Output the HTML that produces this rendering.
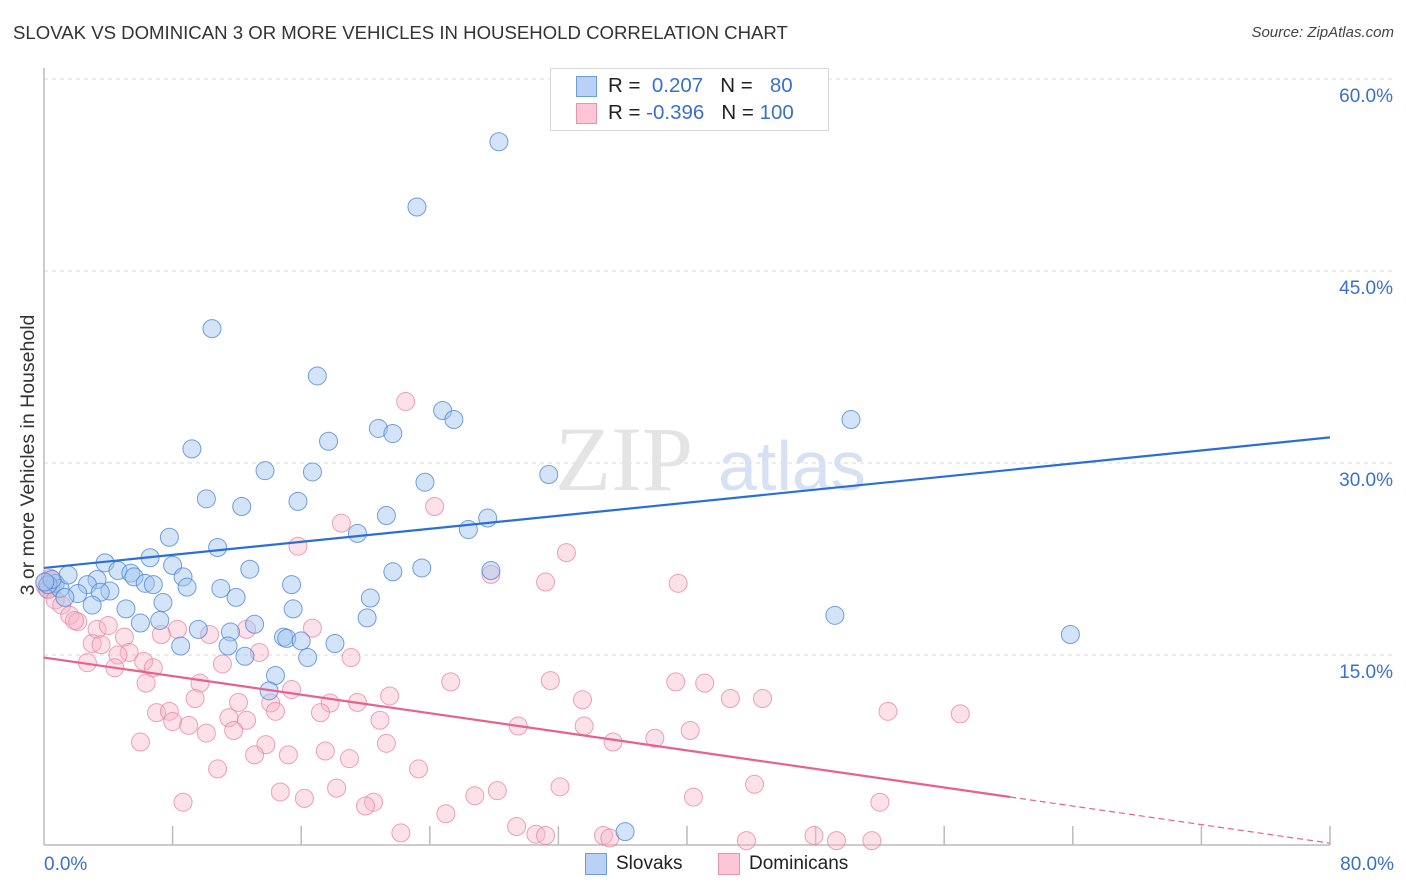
<!DOCTYPE html>
<html><head><meta charset="utf-8"><style>
body{margin:0;background:#fff;font-family:"Liberation Sans",sans-serif;}
#wrap{position:relative;width:1406px;height:892px;overflow:hidden;}
.t{position:absolute;white-space:nowrap;}
</style></head><body>
<div id="wrap">
<div class="t" style="left:13px;top:22px;font-size:18.6px;color:#333;">SLOVAK VS DOMINICAN 3 OR MORE VEHICLES IN HOUSEHOLD CORRELATION CHART</div>
<div class="t" style="right:12px;top:24px;font-size:15px;font-style:italic;color:#444;">Source: ZipAtlas.com</div>
<svg id="svg" width="1406" height="892" style="position:absolute;left:0;top:0;"></svg>
</div>
<script>
const yTicks=[15,30,45,60];
const yTickLabels=["15.0%","30.0%","45.0%","60.0%"];
const xEndLabels=["0.0%","80.0%"];
const slovakX=[28.3,23.2,10.45,17.0,50.2,24.8,25.5,20.8,21.7,17.7,9.2,13.75,16.7,31.4,23.7,10.1,15.8,12.3,21.3,27.6,26.4,19.5,7.8,10.8,6.6,3.8,8.0,4.6,5.4,5.6,12.8,21.7,23.5,27.8,8.65,3.3,2.7,6.3,6.8,0.7,1.0,1.5,2.1,4.1,3.5,11.0,8.9,15.4,1.3,3.0,7.4,11.95,20.3,5.1,15.5,6.0,7.2,13.1,20.1,49.2,63.85,9.6,11.6,14.9,15.1,16.0,18.1,8.5,11.45,12.5,16.4,14.4,14.0,36.15,0.25,0.5,0.05];
const slovakY=[55.1,50.0,40.5,36.8,33.4,34.1,33.4,32.7,32.3,31.7,31.1,29.4,29.3,29.1,28.5,27.2,27.0,26.6,25.9,25.7,24.8,24.5,24.2,23.4,22.6,22.2,22.0,21.6,21.4,21.1,21.7,21.5,21.8,21.6,21.1,20.9,20.5,20.6,20.5,20.6,20.2,21.25,19.8,20.0,19.9,20.2,20.3,20.5,19.5,18.9,19.1,19.5,19.45,18.6,18.6,17.5,17.7,17.4,17.9,18.1,16.6,17.0,16.8,16.4,16.3,16.1,15.9,15.7,15.7,14.9,14.8,13.4,12.2,1.2,20.5,20.9,20.7];
const dominicanX=[22.5,24.3,18.5,15.8,32.5,27.8,31.2,39.45,0.4,0.25,0.7,1.1,1.6,2.1,1.9,3.3,4.0,5.0,8.3,10.3,12.6,16.7,7.3,3.0,3.55,5.3,4.6,6.2,6.8,13.4,19.1,11.1,2.7,4.4,6.35,9.7,15.4,25.3,31.5,39.3,41.1,9.4,12.1,14.1,17.8,19.5,21.5,33.5,42.7,44.7,52.5,57.0,7.0,7.8,11.5,12.6,14.4,17.2,8.0,9.0,11.8,20.9,29.5,33.6,40.2,10.1,6.0,13.8,17.5,21.3,35.4,38.0,13.1,15.2,19.0,10.8,23.3,44.2,32.1,18.2,14.7,16.2,20.5,20.0,26.8,28.2,8.65,40.4,52.0,25.0,29.4,22.2,30.6,31.2,34.8,35.2,43.7,47.9,49.3,51.5];
const dominicanY=[34.8,26.6,25.3,23.5,23.0,21.3,20.7,20.6,21.0,20.1,19.3,18.9,18.1,17.6,17.7,17.0,17.3,16.4,17.0,16.6,17.0,17.1,16.6,15.9,15.8,15.2,15.0,14.5,14.0,15.2,14.8,14.3,14.4,14.0,12.8,12.8,12.3,12.9,13.0,12.9,12.8,11.6,11.3,11.25,11.25,11.3,11.8,11.5,11.6,11.6,10.6,10.4,10.5,10.6,10.1,9.9,10.6,10.5,9.8,9.5,9.1,9.9,9.45,9.45,9.1,8.9,8.2,8.0,7.5,8.1,8.2,8.5,7.2,7.2,6.9,6.1,6.1,4.9,4.7,4.6,4.3,3.8,3.5,3.2,4.0,4.4,3.5,3.9,3.5,2.6,1.6,1.1,1.0,0.9,0.9,0.7,0.5,0.9,0.5,0.5];
const slovakTrend=[21.8,32.0];
const dominicanTrend=[14.8,0.3];
const dominicanSolidEnd=60.1;

const X0=44,X1=1330,Y0=847,PPY=12.8;
const sx=v=>X0+(X1-X0)*v/80;
const sy=v=>Y0-v*PPY;
const svg=document.getElementById('svg');
const NS='http://www.w3.org/2000/svg';
function mk(tag,attrs){const e=document.createElementNS(NS,tag);for(const k in attrs)e.setAttribute(k,attrs[k]);svg.appendChild(e);return e;}

yTicks.forEach((v,i)=>{
  const g=mk('line',{x1:X0,x2:1394,y1:sy(v),y2:sy(v),stroke:'#d8d8d8','stroke-dasharray':'4,4'});
  
  
  const t=mk('text',{x:1393,y:sy(v)+23,'text-anchor':'end','font-size':'19','fill':'#3a6fd1','font-family':'Liberation Sans'});
  t.textContent=yTickLabels[i];
  
  
});
let a=mk('line',{x1:X0,x2:X0,y1:68,y2:845,stroke:'#bbb','stroke-width':1.5});


a=mk('line',{x1:X0,x2:X1,y1:845,y2:845,stroke:'#bbb','stroke-width':1.5});


for(let i=1;i<=10;i++){
  const x=X0+(X1-X0)*i/10;
  const tk=mk('line',{x1:x,x2:x,y1:826,y2:845,stroke:'#bbb','stroke-width':1.5});
  
  
}
[[X0,'start',0],[1394,'end',1]].forEach(([x,anc,i])=>{
  const t=mk('text',{x:x,y:870,'text-anchor':anc,'font-size':'19',fill:'#3a6fd1','font-family':'Liberation Sans'});
  t.textContent=xEndLabels[i];
  
  
});
let w=mk('text',{x:555,y:490,'font-size':'92','font-family':'Liberation Serif',fill:'#e4e4e4'});
w.textContent='ZIP';


w=mk('text',{x:718,y:490,'font-size':'70','font-family':'Liberation Sans',fill:'#d6e2f3'});
w.textContent='atlas';


let yl=mk('text',{x:0,y:0,transform:'translate(34,455) rotate(-90)','text-anchor':'middle','font-size':'19.5','font-family':'Liberation Sans',fill:'#333'});
yl.textContent='3 or more Vehicles in Household';



let b=mk('circle',{cx:sx(0.3),cy:sy(20.5),r:13,fill:'rgba(240,140,170,0.25)',stroke:'rgba(230,120,160,0.5)'});


b=mk('circle',{cx:sx(0.3),cy:sy(20.3),r:11,fill:'rgba(140,180,235,0.3)',stroke:'rgba(80,140,220,0.5)'});



dominicanX.forEach((x,i)=>{
  const c=mk('circle',{cx:sx(x),cy:sy(dominicanY[i]),r:9,fill:'rgba(248,180,200,0.4)',stroke:'rgba(232,130,165,0.75)','stroke-width':1});
  
  
});
slovakX.forEach((x,i)=>{
  const c=mk('circle',{cx:sx(x),cy:sy(slovakY[i]),r:9,fill:'rgba(160,195,240,0.45)',stroke:'rgba(70,130,215,0.75)','stroke-width':1});
  
  
});
let l=mk('line',{x1:sx(0),y1:sy(slovakTrend[0]),x2:sx(80),y2:sy(slovakTrend[1]),stroke:'#2a6fd6','stroke-width':2.2});


const pAt=x=>dominicanTrend[0]+(dominicanTrend[1]-dominicanTrend[0])*x/80;
l=mk('line',{x1:sx(0),y1:sy(pAt(0)),x2:sx(dominicanSolidEnd),y2:sy(pAt(dominicanSolidEnd)),stroke:'#e8608e','stroke-width':2.2});


l=mk('line',{x1:sx(dominicanSolidEnd),y1:sy(pAt(dominicanSolidEnd)),x2:sx(80),y2:sy(pAt(80)),stroke:'#e8608e','stroke-width':1.2,'stroke-dasharray':'6,4'});


</script>
<div class="t" style="left:550px;top:68px;width:277px;height:61px;border:1px solid #d8d8d8;background:#fff;"></div>
<div class="t" style="left:576px;top:76px;width:19px;height:19px;background:#b8d1f5;border:1px solid #6b9be0;"></div>
<div class="t" style="left:576px;top:103px;width:19px;height:19px;background:#fcc6d6;border:1px solid #ea92b0;"></div>
<div class="t" style="left:608px;top:74px;font-size:20.5px;color:#222;">R = <span style="color:#3a6fd1;">&nbsp;0.207</span>&nbsp;&nbsp;&nbsp;N = <span style="color:#3a6fd1;">&nbsp;&nbsp;80</span></div>
<div class="t" style="left:608px;top:101px;font-size:20.5px;color:#222;">R = <span style="color:#3a6fd1;">-0.396</span>&nbsp;&nbsp;&nbsp;N = <span style="color:#3a6fd1;">100</span></div>
<div class="t" style="left:585px;top:853px;width:20px;height:20px;background:#b8d1f5;border:1px solid #6b9be0;"></div>
<div class="t" style="left:616px;top:853px;font-size:19px;color:#222;">Slovaks</div>
<div class="t" style="left:718px;top:853px;width:20px;height:20px;background:#fcc6d6;border:1px solid #ea92b0;"></div>
<div class="t" style="left:749px;top:853px;font-size:19px;color:#222;">Dominicans</div>
</body></html>
